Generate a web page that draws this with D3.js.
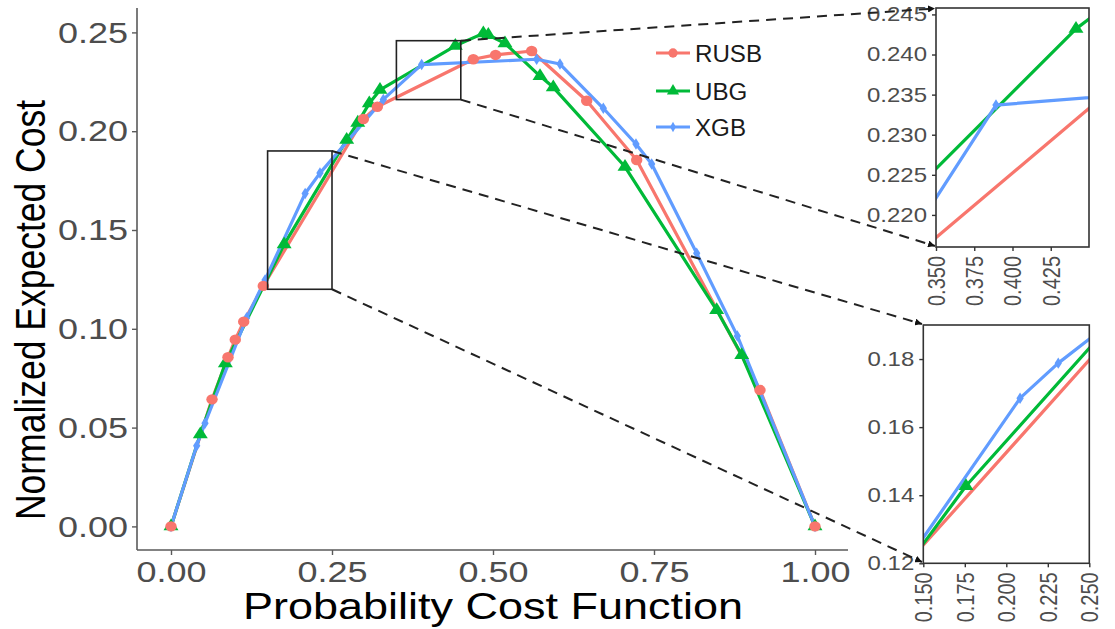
<!DOCTYPE html>
<html><head><meta charset="utf-8">
<script src="https://cdn.jsdelivr.net/npm/d3@7"></script>
<style>
body{margin:0;background:#fff}
svg{display:block}
text{font-family:"Liberation Sans",Arial,Helvetica,sans-serif}
</style>
</head><body>
<svg id="chart" width="1115" height="629"></svg>
<script>
// ---------------- data ----------------
const seriesNames = ["RUSB", "UBG", "XGB"];
const seriesColors = ["#F8766D", "#00BA38", "#619CFF"];

const rusbX = [0, 0.0637, 0.0885, 0.0998, 0.1129, 0.1433, 0.2987, 0.3204, 0.4694, 0.504, 0.560, 0.6455, 0.7231, 0.9146, 1.0];
const rusbY = [0, 0.0643, 0.0856, 0.0945, 0.1036, 0.1217, 0.2062, 0.2124, 0.2364, 0.2386, 0.2406, 0.2154, 0.1854, 0.0690, 0];

const ubgX = [0, 0.0455, 0.0844, 0.1757, 0.2728, 0.29, 0.3079, 0.3245, 0.4415, 0.485, 0.4927, 0.5186, 0.573, 0.5936, 0.705, 0.8473, 0.8862, 1.0];
const ubgY = [0, 0.0466, 0.0825, 0.1427, 0.1956, 0.2043, 0.2141, 0.2209, 0.2432, 0.2495, 0.2487, 0.2445, 0.2279, 0.2222, 0.182, 0.1095, 0.0867, 0];

const xgbX = [0, 0.0399, 0.0528, 0.1175, 0.146, 0.2083, 0.2313, 0.3297, 0.3892, 0.5678, 0.604, 0.6713, 0.722, 0.7464, 0.8163, 0.8794, 1.0];
const xgbY = [0, 0.0408, 0.0522, 0.1056, 0.1247, 0.1685, 0.1788, 0.2161, 0.2337, 0.2364, 0.234, 0.2116, 0.1935, 0.1834, 0.1382, 0.0964, 0];

const mainXTicks = [0, 0.25, 0.5, 0.75, 1];
const mainYTicks = [0, 0.05, 0.10, 0.15, 0.20, 0.25];

const topZoomX = [0.35, 0.45];
const topZoomY = [0.216, 0.2458];
const topXTicks = [0.35, 0.375, 0.4, 0.425];
const topYTicks = [0.22, 0.225, 0.23, 0.235, 0.24, 0.245];

const botZoomX = [0.15, 0.25];
const botZoomY = [0.12, 0.19];
const botXTicks = [0.15, 0.175, 0.2, 0.225, 0.25];
const botYTicks = [0.12, 0.14, 0.16, 0.18];

const xTitle = "Probability Cost Function";
const yTitle = "Normalized Expected Cost";

// ---------------- setup ----------------
const SX = 1.2;           // horizontal stretch of the reference image
const TICK_COL = "#4D4D4D";
const AXIS_COL = "#5a5a5a";
const svg = d3.select("#chart");

const defs = svg.append("defs");
defs.append("marker").attr("id", "arrow")
  .attr("viewBox", "0 0 10 10").attr("refX", 10).attr("refY", 5)
  .attr("markerWidth", 7).attr("markerHeight", 7).attr("orient", "auto")
  .attr("markerUnits", "userSpaceOnUse")
  .append("path").attr("d", "M0,0 L10,5 L0,10 z").attr("fill", "#111");

const xsList = [rusbX, ubgX, xgbX];
const ysList = [rusbY, ubgY, xgbY];
const series = seriesNames.map((name, i) => ({
  name, color: seriesColors[i],
  pts: xsList[i].map((x, j) => ({x, y: ysList[i][j]}))
}));

const symbolFor = i => i === 0 ? d3.symbolCircle : (i === 1 ? d3.symbolTriangle : d3.symbolDiamond);
const symSize = [85, 80, 38];

function drawData(g, x, y, clipId) {
  const body = g.append("g");
  if (clipId) body.attr("clip-path", `url(#${clipId})`);
  const line = d3.line().x(d => x(d.x)).y(d => y(d.y));
  series.forEach(s => {
    body.append("path").datum(s.pts).attr("d", line)
      .attr("fill", "none").attr("stroke", s.color).attr("stroke-width", 3.2)
      .attr("stroke-linejoin", "round");
  });
  [2, 1, 0].forEach(i => {
    const s = series[i];
    body.selectAll(null).data(s.pts).enter().append("path")
      .attr("transform", d => `translate(${x(d.x)},${y(d.y)}) scale(1.1,1)`)
      .attr("d", d3.symbol().type(symbolFor(i)).size(symSize[i]))
      .attr("fill", s.color);
  });
}

// ---------------- main panel ----------------
const x = d3.scaleLinear().domain([0, 1]).range([171, 815]);
const y = d3.scaleLinear().domain([0, 0.25]).range([526.4, 32.4]);
const main = svg.append("g");

drawData(main, x, y, null);

// axis lines
main.append("line").attr("x1", 137).attr("x2", 137).attr("y1", 8).attr("y2", 550)
  .attr("stroke", AXIS_COL).attr("stroke-width", 1.6);
main.append("line").attr("x1", 137).attr("x2", 848).attr("y1", 550).attr("y2", 550)
  .attr("stroke", AXIS_COL).attr("stroke-width", 1.6);

const yAx = main.append("g").attr("transform", "translate(137,0)")
  .call(d3.axisLeft(y).tickValues(mainYTicks).tickFormat(d3.format(".2f")).tickSize(5).tickSizeOuter(0));
const xAx = main.append("g").attr("transform", "translate(0,550)")
  .call(d3.axisBottom(x).tickValues(mainXTicks).tickFormat(d3.format(".2f")).tickSize(5).tickSizeOuter(0));
[yAx, xAx].forEach(a => {
  a.select(".domain").remove();
  a.selectAll(".tick line").attr("stroke", AXIS_COL).attr("stroke-width", 1.4);
  a.selectAll(".tick text").attr("fill", TICK_COL).attr("font-size", 30)
    .attr("font-family", '"Liberation Sans",Arial,sans-serif');
});
yAx.selectAll(".tick text").attr("x", 0).attr("transform", `translate(-9,0) scale(${SX},1)`);
xAx.selectAll(".tick text").attr("y", 0).attr("transform", `translate(0,11) scale(${SX},1)`);

// titles
main.append("text").attr("transform", `translate(493,619) scale(${SX},1)`)
  .attr("text-anchor", "middle").attr("font-size", 37.5).attr("fill", "#000").text(xTitle);
main.append("text").attr("transform", `translate(45,310) scale(${SX},1) rotate(-90)`)
  .attr("text-anchor", "middle").attr("font-size", 35.5).attr("fill", "#000").text(yTitle);

// legend
const legY = [53, 91, 127];
series.forEach((s, i) => {
  const lg = main.append("g").attr("transform", `translate(0,${legY[i]})`);
  lg.append("line").attr("x1", 656).attr("x2", 690).attr("y1", 0).attr("y2", 0)
    .attr("stroke", s.color).attr("stroke-width", 3.2);
  lg.append("path").attr("transform", "translate(673,0)")
    .attr("d", d3.symbol().type(symbolFor(i)).size(symSize[i] * 0.8)).attr("fill", s.color);
  lg.append("text").attr("transform", "translate(695,8.5) scale(1.05,1)")
    .attr("font-size", 23).attr("fill", "#1a1a1a").text(s.name);
});

// zoom rectangles on main panel
function zoomRect(xr, yr) {
  const r = {x0: x(xr[0]), x1: x(xr[1]), y0: y(yr[1]), y1: y(yr[0])};
  main.append("rect").attr("x", r.x0).attr("y", r.y0)
    .attr("width", r.x1 - r.x0).attr("height", r.y1 - r.y0)
    .attr("fill", "none").attr("stroke", "#222").attr("stroke-width", 1.6);
  return r;
}
const rTop = zoomRect(topZoomX, topZoomY);
const rBot = zoomRect(botZoomX, botZoomY);

// ---------------- insets ----------------
function inset(id, xr, yr, px, py, xt, yt, xfmt, yfmt) {
  const ix = d3.scaleLinear().domain(xr).range(px);
  const iy = d3.scaleLinear().domain(yr).range(py);
  const g = svg.append("g");
  defs.append("clipPath").attr("id", id).append("rect")
    .attr("x", px[0]).attr("y", py[1]).attr("width", px[1] - px[0]).attr("height", py[0] - py[1]);
  g.append("rect").attr("x", px[0]).attr("y", py[1]).attr("width", px[1] - px[0]).attr("height", py[0] - py[1])
    .attr("fill", "#fff");
  drawData(g, ix, iy, id);
  g.append("rect").attr("x", px[0]).attr("y", py[1]).attr("width", px[1] - px[0]).attr("height", py[0] - py[1])
    .attr("fill", "none").attr("stroke", "#333").attr("stroke-width", 1.6);
  const ya = g.append("g").attr("transform", `translate(${px[0]},0)`)
    .call(d3.axisLeft(iy).tickValues(yt).tickFormat(d3.format(yfmt)).tickSize(4).tickSizeOuter(0));
  const xa = g.append("g").attr("transform", `translate(0,${py[0]})`)
    .call(d3.axisBottom(ix).tickValues(xt).tickFormat(d3.format(xfmt)).tickSize(4).tickSizeOuter(0));
  [ya, xa].forEach(a => {
    a.select(".domain").remove();
    a.selectAll(".tick line").attr("stroke", "#333").attr("stroke-width", 1.4);
    a.selectAll(".tick text").attr("fill", TICK_COL).attr("font-size", 20)
      .attr("font-family", '"Liberation Sans",Arial,sans-serif');
  });
  ya.selectAll(".tick text").attr("x", 0).attr("transform", `translate(-9,0) scale(${SX},1)`);
  xa.selectAll(".tick text").attr("x", 0).attr("y", 0).attr("dy", "0.35em")
    .attr("text-anchor", "end")
    .attr("transform", `translate(0,9) scale(${SX},1) rotate(-90)`);
  return {ix, iy};
}
inset("clipTop", topZoomX, topZoomY, [936, 1089], [247, 8], topXTicks, topYTicks, ".3f", ".3f");
inset("clipBot", botZoomX, botZoomY, [923.3, 1089.3], [563.3, 325], botXTicks, botYTicks, ".3f", ".2f");

// ---------------- dashed connectors ----------------
function connector(x1, y1, x2, y2) {
  svg.append("line").attr("x1", x1).attr("y1", y1).attr("x2", x2).attr("y2", y2)
    .attr("stroke", "#222").attr("stroke-width", 2).attr("stroke-dasharray", "10,7")
    .attr("marker-end", "url(#arrow)");
}
connector(rTop.x1, rTop.y0, 935, 8.5);
connector(rTop.x1, rTop.y1, 935, 246);
connector(rBot.x1, rBot.y0, 922, 324);
connector(rBot.x1, rBot.y1, 922, 562);
</script>
</body></html>
